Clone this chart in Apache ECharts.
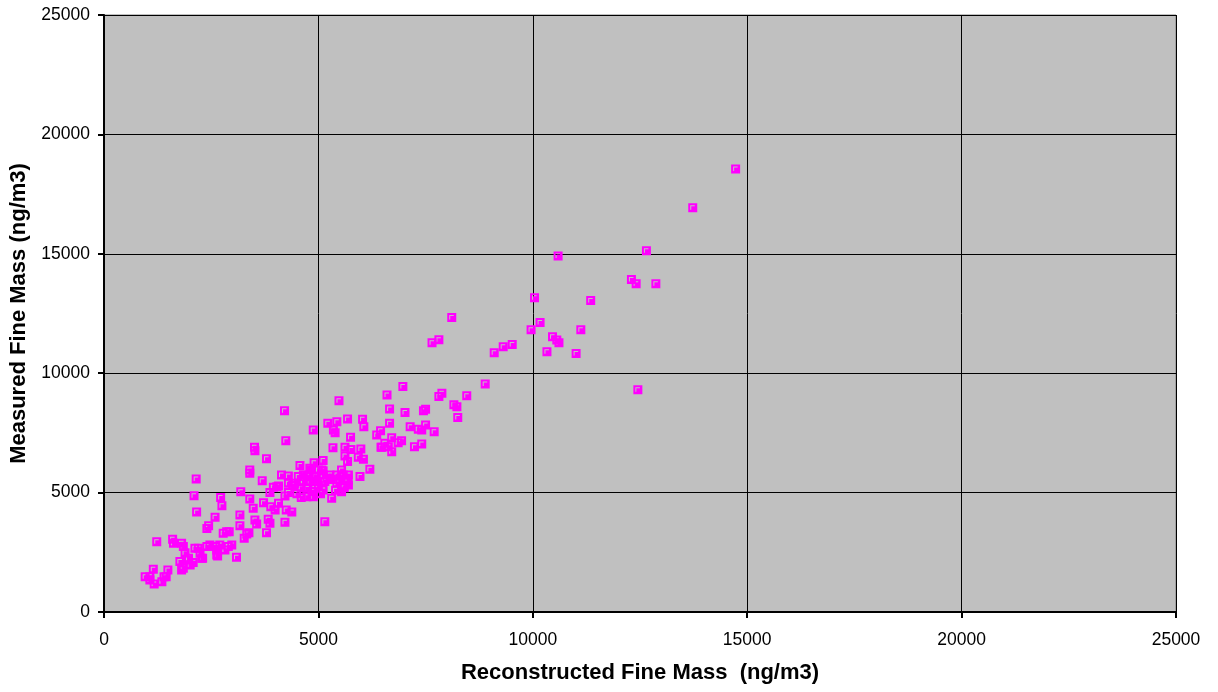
<!DOCTYPE html>
<html>
<head>
<meta charset="utf-8">
<script src="https://cdn.jsdelivr.net/npm/echarts@6/dist/echarts.min.js"></script>
<style>
html,body{margin:0;padding:0;background:#fff;}
#chart{width:1218px;height:692px;}
</style>
</head>
<body>
<div id="chart"></div>
<script>
// Reconstructed fine mass (x) vs measured fine mass (y), ng/m3
const reconstructed = [
14730,13730,12650,10590,12300,12410,12870,10040,11350,8110,10170,9960,11120,7810,7650,10460,10560,10610,9520,9310,9100,10330,11010,
6970,7880,7810,8460,8890,12450,6600,8160,8230,8250,6660,7020,7500,7450,6660,7140,7330,7410,7500,7700,6450,6360,6710,6550,6480,6940,6860,7410,7240,6710,6630,
5480,4210,4880,5220,5430,5680,6030,6060,5350,5390,4240,5750,5340,5620,5760,5990,5620,5680,5930,6050,6200,6460,4900,5110,4570,3790,3510,3520,
4840,5080,5540,4140,4300,3690,
2150,3190,3950,4070,4220,2100,2720,2750,2160,3400,3480,3720,3890,4070,3990,3170,2590,3520,3560,3830,3870,4220,3790,3170,2440,2400,3330,3380,3270,2860,2780,2920,
2600,2700,2900,2980,2630,3090,2400,2470,2200,2240,2120,1770,1810,1850,1970,2010,2080,2300,1600,1620,1810,1850,1230,1490,1450,1150,960,1070,1070,1170,1350,1400,1890,1970,2280,2650,2630,2820,
3400,3400,
4800,5000,5110,4730,4920,5110,5270,5430,5580,5700,4650,4800,4960,5150,5430,5700,4730,4920,5110,5540,4730,4880,5310,5150,5970,
3870,4030,4300,4450,4530,
5400,5600,5200,5000,4600,4400,4850,5300,5500,5050,4950,4650,4250,4380,4500,4600,4300,5690,5600
];
const measured = [
18550,16930,15130,14910,13920,13750,13750,13160,13040,12330,12120,11820,11820,11400,11280,11530,11390,11280,11200,11110,10860,10900,10820,
9440,9160,9020,9060,9550,9310,9090,8680,8600,8140,8500,8350,8490,8430,7900,7760,7650,7620,7830,7550,7590,7410,7300,7070,6900,7170,7090,7040,6920,6710,6920,
8850,8430,7620,7900,7970,8080,8070,7760,7620,7510,7170,7320,6880,6900,6810,6830,6530,6300,6480,6400,5980,6900,6250,6340,6130,6420,6900,6750,
5950,5950,5950,5740,5700,5500,
5570,5040,5220,5280,4860,4870,4800,4450,4190,4730,4340,4580,4410,4550,4270,4060,3970,3850,3690,3880,3720,3760,3320,3610,3610,3500,3270,3320,3090,3360,3300,3360,
2740,2810,2740,2810,2390,2290,2740,2810,2670,2460,2670,2110,1760,1830,2180,1970,2070,2250,3050,2880,2880,2740,2940,1760,1480,1790,1480,1480,1340,1170,1270,1480,2480,2250,2250,2350,2600,2600,
5950,5810,
6020,5950,5920,5670,5670,5740,5740,5740,5740,5740,5460,5460,5460,5460,5390,5320,5180,5180,5110,5040,4830,4830,4760,3780,5670,
5000,5250,5390,5390,5670,
5100,5250,5600,5300,5200,5300,5050,5550,5550,4950,5700,5750,4270,4190,4950,4800,5000,5530,5200
];
const xTicks = [0, 5000, 10000, 15000, 20000, 25000];
const yTicks = [0, 5000, 10000, 15000, 20000, 25000];

const points = reconstructed.map((x, i) => [x, measured[i]]);

const chart = echarts.init(document.getElementById('chart'), null, {renderer: 'canvas'});
const labelFont = {color: '#000', fontFamily: 'Liberation Sans, Arial, sans-serif', fontSize: 17.5};
const plain = v => String(v);
chart.setOption({
  animation: false,
  backgroundColor: '#ffffff',
  grid: {
    left: 104, right: 42, top: 15, bottom: 80,
    show: true, backgroundColor: '#C0C0C0', borderColor: '#808080', borderWidth: 1
  },
  xAxis: {
    type: 'value', min: xTicks[0], max: xTicks[xTicks.length - 1], interval: 5000,
    name: 'Reconstructed Fine Mass  (ng/m3)', nameLocation: 'middle', nameGap: 50,
    nameTextStyle: {color: '#000', fontFamily: 'Liberation Sans, Arial, sans-serif', fontSize: 22, fontWeight: 'bold'},
    axisLine: {show: true, lineStyle: {color: '#000', width: 2}},
    axisTick: {show: true, length: 6, lineStyle: {color: '#000', width: 2}},
    axisLabel: Object.assign({margin: 19, formatter: plain}, labelFont),
    splitLine: {show: true, lineStyle: {color: '#000', width: 1}}
  },
  yAxis: {
    type: 'value', min: yTicks[0], max: yTicks[yTicks.length - 1], interval: 5000,
    name: 'Measured Fine Mass (ng/m3)', nameLocation: 'middle', nameGap: 73, nameRotate: 90,
    nameTextStyle: {color: '#000', fontFamily: 'Liberation Sans, Arial, sans-serif', fontSize: 22, fontWeight: 'bold'},
    axisLine: {show: true, lineStyle: {color: '#000', width: 2}},
    axisTick: {show: true, length: 6, lineStyle: {color: '#000', width: 2}},
    axisLabel: Object.assign({margin: 14, formatter: plain}, labelFont),
    splitLine: {show: true, lineStyle: {color: '#000', width: 1}}
  },
  series: [{
    type: 'scatter',
    data: points,
    symbol: 'path://M0,0H9V9H0Z M2,2V6.5H3V3H6.5V2Z',
    symbolSize: 9,
    itemStyle: {color: '#FF00FF', opacity: 1},
    emphasis: {disabled: true}
  }]
});
</script>
</body>
</html>
